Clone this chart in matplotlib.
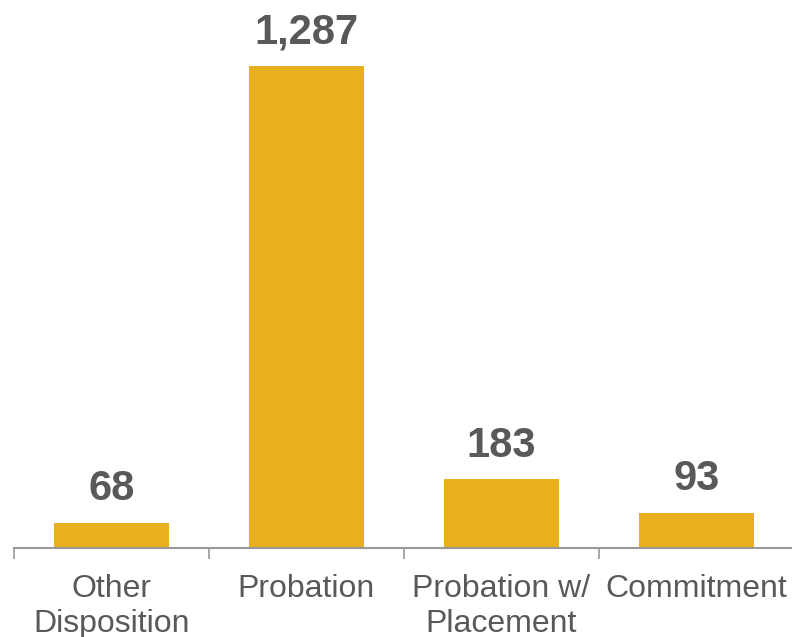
import matplotlib.pyplot as plt
import numpy as np

plt.rcParams['font.family'] = ['Liberation Sans', 'DejaVu Sans']

categories = ["Other\nDisposition", "Probation", "Probation w/\nPlacement", "Commitment"]
counts = [68, 1287, 183, 93]

bar_color = '#E8AF1E'
text_color = '#595959'

fig = plt.figure(figsize=(7.92, 6.37), dpi=100)
ax = fig.add_axes([14 / 792, 1 - 548 / 637, 780 / 792, 548 / 637])

x = np.arange(len(categories))
bars = ax.bar(x, counts, width=0.59, color=bar_color)

# value labels above each bar
for b, v in zip(bars, counts):
    ax.annotate(f"{v:,}", (b.get_x() + b.get_width() / 2, v),
                xytext=(0, 10), textcoords='offset points',
                ha='center', va='bottom', fontsize=30, fontweight='bold',
                color=text_color)

ax.set_xlim(-0.5, 3.5)
ax.set_ylim(0, 1463)
# tick marks between categories, labels centred under bars
ax.set_xticks(np.arange(-0.5, 3.5, 1.0))
ax.set_xticklabels([])
ax.set_xticks(x, minor=True)
ax.set_xticklabels(categories, minor=True, fontsize=23, color=text_color,
                   linespacing=1.22)
ax.tick_params(axis='x', which='major', length=8, width=1.2, color='#999999')
ax.tick_params(axis='x', which='minor', length=0, pad=19)
ax.set_yticks([])
for s in ['top', 'right', 'left']:
    ax.spines[s].set_visible(False)
ax.spines['bottom'].set_color('#999999')
ax.spines['bottom'].set_linewidth(1.5)

fig.savefig('out.png', dpi=100)
